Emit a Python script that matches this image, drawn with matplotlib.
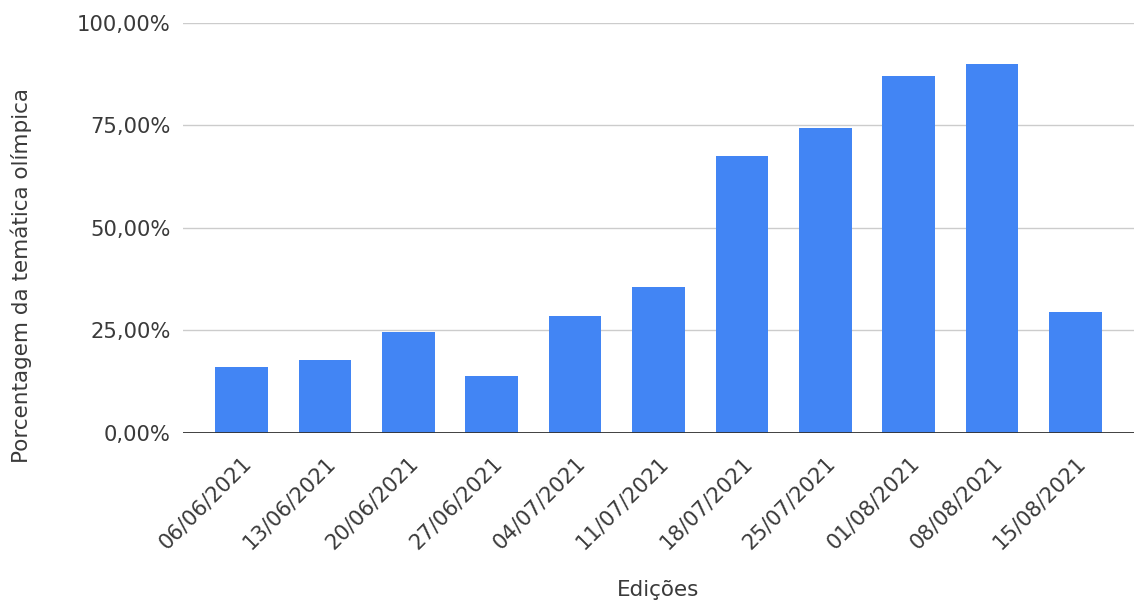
import matplotlib
matplotlib.use("Agg")
import matplotlib.pyplot as plt
from matplotlib.ticker import FuncFormatter

plt.rcParams["font.family"] = ["DejaVu Sans"]

edicoes = ["06/06/2021", "13/06/2021", "20/06/2021", "27/06/2021", "04/07/2021",
           "11/07/2021", "18/07/2021", "25/07/2021", "01/08/2021", "08/08/2021",
           "15/08/2021"]
porcentagem = [16.2, 17.7, 24.6, 13.8, 28.5, 35.7, 67.4, 74.4, 87.0, 89.9, 29.4]

fig = plt.figure(figsize=(11.34, 6.06), dpi=100)
ax = fig.add_axes([0.1614, 0.2855, 0.8386, 0.677])

x = range(len(edicoes))
ax.bar(x, porcentagem, width=0.63, color="#4285f4", zorder=3)

ax.set_ylim(0, 100)
ax.set_xlim(-0.7, 10.7)
ax.set_yticks([0, 25, 50, 75, 100])
ax.yaxis.set_major_formatter(FuncFormatter(lambda v, p: f"{v:.2f}%".replace(".", ",")))
ax.grid(axis="y", color="#cccccc", linewidth=1, zorder=0)
ax.axhline(0, color="#333333", linewidth=1.3, zorder=4)

ax.set_xticks(list(x))
ax.set_xticklabels(edicoes, rotation=45, ha="right", rotation_mode="anchor")
ax.tick_params(axis="both", length=0, labelsize=15.2, labelcolor="#3a3a3a")
ax.tick_params(axis="y", pad=9)
ax.tick_params(axis="x", pad=14)

for s in ax.spines.values():
    s.set_visible(False)

fig.text(0.5805, 0.026, "Edições", fontsize=15.5, color="#3a3a3a",
         ha="center", va="center")
fig.text(0.0185, 0.546, "Porcentagem da temática olímpica", fontsize=15.5,
         color="#3a3a3a", rotation=90, ha="center", va="center")

fig.savefig("out.png", dpi=100)
